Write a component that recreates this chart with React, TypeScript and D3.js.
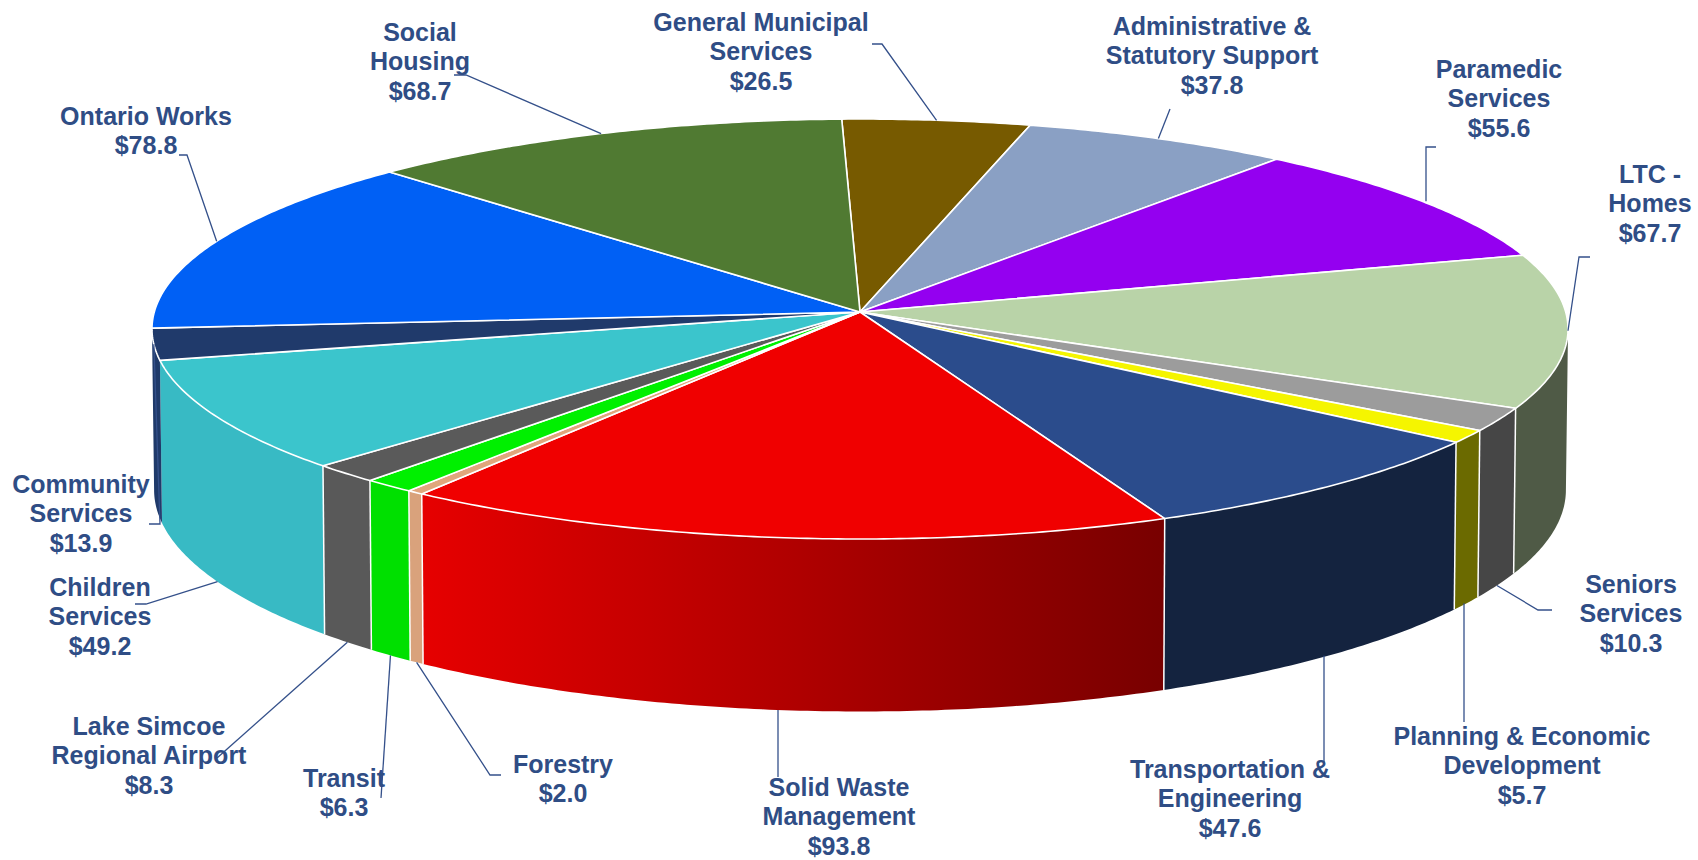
import React from "react";
import * as d3 from "d3";

// Regional budget by service, in $ millions, clockwise from the top of the pie.
const SERVICE_LINES: string[][] = [
  ["General Municipal", "Services"],
  ["Administrative &", "Statutory Support"],
  ["Paramedic", "Services"],
  ["LTC -", "Homes"],
  ["Seniors", "Services"],
  ["Planning & Economic", "Development"],
  ["Transportation &", "Engineering"],
  ["Solid Waste", "Management"],
  ["Forestry"],
  ["Transit"],
  ["Lake Simcoe", "Regional Airport"],
  ["Children", "Services"],
  ["Community", "Services"],
  ["Ontario Works"],
  ["Social", "Housing"],
];
const BUDGET_VALUES = [26.5, 37.8, 55.6, 67.7, 10.3, 5.7, 47.6, 93.8, 2.0, 6.3, 8.3, 49.2, 13.9, 78.8, 68.7];

const TOP_COLORS = [
  "#775a00", "#8aa0c4", "#9400f0", "#b9d3a8", "#9c9c9c", "#f5f500", "#2b4c8c", "#f00000",
  "#e0a67c", "#00f000", "#5a5a5a", "#3bc5cc", "#203a6b", "#0060f5", "#507a32",
];
const WALL_COLORS = [
  "#5a4400", "#6a7c98", "#6c00b0", "#4f5a46", "#464646", "#6b6a00", "#14233f", "url(#solidWasteWall)",
  "#d9a27c", "#00e000", "#595959", "#38bac4", "#1f3a6a", "#0048b8", "#3c5c26",
];

// Label anchors: centre x and the baseline of the first line.
const LABEL_X = [761, 1212, 1499, 1650, 1631, 1522, 1230, 839, 563, 344, 149, 100, 81, 146, 420];
const LABEL_Y = [31, 35, 78, 183, 593, 745, 778, 796, 773, 787, 735, 596, 493, 125, 41];

// Leader lines: the free end and elbow of each one; the last point sits on the rim.
const LEADER_ELBOWS: number[][][] = [
  [[872, 44], [882, 44]],
  [[1170, 109]],
  [[1436, 147], [1426, 147]],
  [[1590, 257], [1579, 257]],
  [[1552, 610], [1538, 610]],
  [[1464, 722]],
  [[1324, 763]],
  [[778, 777]],
  [[501, 775], [490, 775]],
  [[381, 798]],
  [[217, 758]],
  [[135, 604], [146, 604]],
  [[149, 524], [160, 524]],
  [[179, 155], [187, 155]],
  [[454, 75], [466, 75]],
];
const LEADER_ON_BASE = [false, false, false, false, true, true, true, true, true, true, true, true, false, false, false];
// These leaders drop plumb from the wall instead of running to the slice's mid-angle.
const LEADER_PLUMB = [false, false, true, false, false, true, true, true, false, false, false, false, false, false, false];

// Perspective disc: apex position, radii and foreshortening of the tilted circle.
const APEX_X = 860;
const APEX_Y = 312;
const RADIUS_X = 705.7;
const RADIUS_Y = 208.6;
const TILT = 0.081;
const ROTATION = -0.028;
const BASE_SCALE_X = 0.997;
const BASE_SCALE_Y = 1.055;
const BASE_DROP = 160;
// Rim angles between which the wall faces the viewer.
const FRONT_START = 1.651;
const FRONT_END = 4.632;

const TEXT_COLOR = "#2f4d85";
const LEADER_COLOR = "#34508a";

type Point = [number, number];

function rimPoint(angle: number, onBase: boolean): Point {
  const X = Math.sin(angle);
  const Y = -Math.cos(angle);
  const w = 1 - TILT * Y;
  const u = (RADIUS_X * X) / w;
  const v = (RADIUS_Y * Y) / w;
  return onBase
    ? [APEX_X + u * BASE_SCALE_X, APEX_Y + v * BASE_SCALE_Y + BASE_DROP]
    : [APEX_X + u, APEX_Y + v];
}

function arcPoints(start: number, end: number, onBase: boolean): Point[] {
  const steps = Math.max(2, Math.ceil((end - start) / 0.01));
  return d3.range(steps + 1).map((i) => rimPoint(start + ((end - start) * i) / steps, onBase));
}

const pie = d3
  .pie<number>()
  .sort(null)
  .value((d) => d)
  .startAngle(ROTATION)
  .endAngle(ROTATION + 2 * Math.PI);

const polygon = d3.line<Point>().curve(d3.curveLinearClosed);
const polyline = d3.line<Point>();

export default function App() {
  const slices = pie(BUDGET_VALUES);

  const walls = slices
    .map((s, i) => ({ i, start: Math.max(s.startAngle, FRONT_START), end: Math.min(s.endAngle, FRONT_END) }))
    .filter((w) => w.end > w.start);

  const solid = slices[7];
  const gradFrom = rimPoint(solid.endAngle, true);
  const gradTo = rimPoint(solid.startAngle, true);

  const leaderPath = (i: number) => {
    const points = LEADER_ELBOWS[i] as Point[];
    const rim = rimPoint((slices[i].startAngle + slices[i].endAngle) / 2, LEADER_ON_BASE[i]);
    const end: Point = LEADER_PLUMB[i] ? [points[points.length - 1][0], rim[1]] : rim;
    return polyline([...points, end]) ?? "";
  };

  return (
    <svg
      width={1698}
      height={860}
      viewBox="0 0 1698 860"
      style={{ position: "absolute", left: 0, top: 0, background: "#ffffff" }}
      fontFamily="'Liberation Sans', Arial, sans-serif"
    >
      <defs>
        <linearGradient id="solidWasteWall" gradientUnits="userSpaceOnUse" x1={gradFrom[0]} y1={0} x2={gradTo[0]} y2={0}>
          <stop offset="0" stopColor="#e60000" />
          <stop offset="0.5" stopColor="#b00000" />
          <stop offset="1" stopColor="#780000" />
        </linearGradient>
      </defs>

      {walls.map((w) => (
        <path
          key={`wall-${w.i}`}
          fill={WALL_COLORS[w.i]}
          d={polygon([...arcPoints(w.start, w.end, false), ...arcPoints(w.start, w.end, true).reverse()]) ?? ""}
        />
      ))}

      {walls
        .filter((w) => SERVICE_LINES[w.i][0] !== "Community" && SERVICE_LINES[w.i][0] !== "LTC -")
        .map((w) => (
          <path
            key={`seam-${w.i}`}
            fill="none"
            stroke="#ffffff"
            strokeWidth={1.5}
            d={polyline([rimPoint(w.start, false), rimPoint(w.start, true)]) ?? ""}
          />
        ))}

      {slices.map((s, i) => (
        <path
          key={`top-${i}`}
          fill={TOP_COLORS[i]}
          stroke="#ffffff"
          strokeWidth={1.6}
          strokeLinejoin="round"
          d={polygon([[APEX_X, APEX_Y], ...arcPoints(s.startAngle, s.endAngle, false)]) ?? ""}
        />
      ))}

      {slices.map((_, i) => (
        <path key={`leader-${i}`} fill="none" stroke={LEADER_COLOR} strokeWidth={1.3} d={leaderPath(i)} />
      ))}

      {BUDGET_VALUES.map((v, i) => (
        <text
          key={`label-${i}`}
          x={LABEL_X[i]}
          y={LABEL_Y[i]}
          textAnchor="middle"
          fill={TEXT_COLOR}
          fontSize={25}
          fontWeight={700}
        >
          {[...SERVICE_LINES[i], `$${d3.format(".1f")(v)}`].map((line, j) => (
            <tspan key={j} x={LABEL_X[i]} dy={j === 0 ? 0 : 29.3}>
              {line}
            </tspan>
          ))}
        </text>
      ))}
    </svg>
  );
}
